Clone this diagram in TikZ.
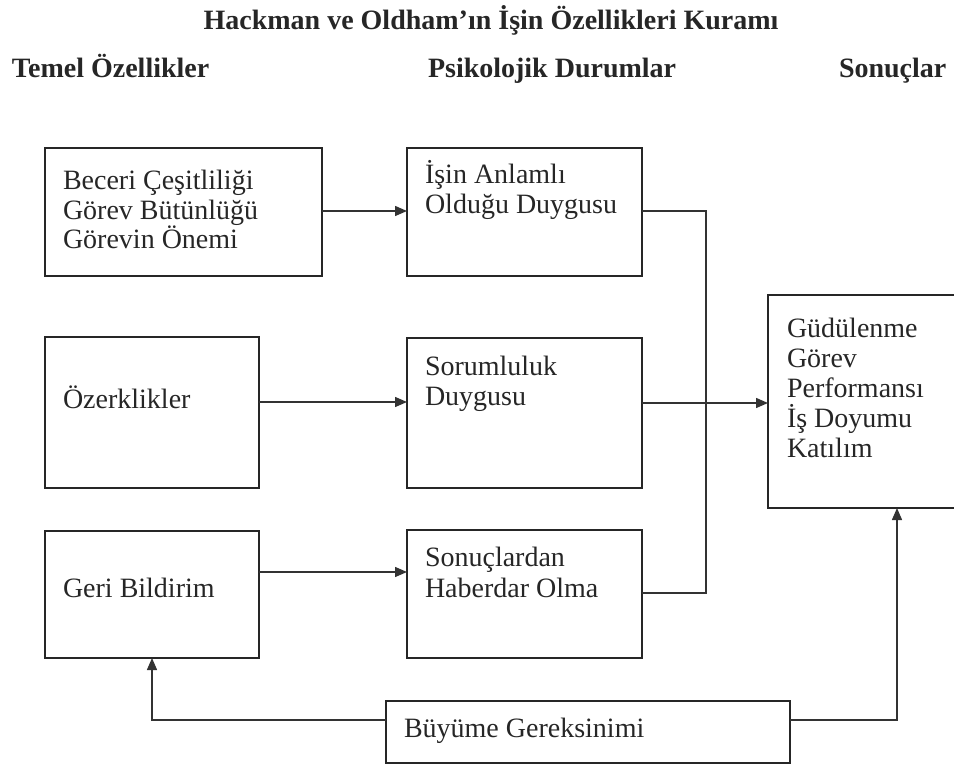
\documentclass[tikz,border=0pt]{standalone}
\usepackage{fontspec}
\setmainfont{Liberation Serif}
\usetikzlibrary{arrows.meta}

\begin{document}
\begin{tikzpicture}[x=1pt,y=-1pt,
  every node/.style={inner sep=0pt, outer sep=0pt},
  box/.style={draw=black!85, line width=1.5pt, rectangle, anchor=north west},
  % multi-line labels sit on the baseline of their last line
  txt/.style={anchor=base west, align=left, text=black!85,
    font=\fontsize{28}{30.5}\selectfont},
  head/.style={anchor=base west, text=black!85,
    font=\fontsize{28}{30}\selectfont\bfseries},
  conn/.style={draw=black!80, line width=1.4pt},
  arr/.style={conn, -{Triangle[length=12pt,width=10pt]}}]

\useasboundingbox (0,0) rectangle (954,767);

% title and column headings
\node[head, anchor=base] (title) at (491,30) {Hackman ve Oldham’ın İşin Özellikleri Kuramı};
\node[head] (h1) at (12,78) {Temel Özellikler};
\node[head] (h2) at (428,78) {Psikolojik Durumlar};
\node[head] (h3) at (839,78) {Sonuçlar};

% core job characteristics
\node[box, minimum width=277pt, minimum height=128pt] (A1) at (45,148) {};
\node[box, minimum width=214pt, minimum height=151pt] (A2) at (45,337) {};
\node[box, minimum width=214pt, minimum height=127pt] (A3) at (45,531) {};
\node[txt, font=\fontsize{28}{29.5}\selectfont] (tA1) at (63,249) {Beceri Çeşitliliği\\Görev Bütünlüğü\\Görevin Önemi};
\node[txt] (tA2) at (63,409) {Özerklikler};
\node[txt] (tA3) at (63,597) {Geri Bildirim};

% critical psychological states
\node[box, minimum width=235pt, minimum height=128pt] (B1) at (407,148) {};
\node[box, minimum width=235pt, minimum height=150pt] (B2) at (407,338) {};
\node[box, minimum width=235pt, minimum height=128pt] (B3) at (407,530) {};
\node[txt] (tB1) at (425,214) {İşin Anlamlı\\Olduğu Duygusu};
\node[txt] (tB2) at (425,406) {Sorumluluk\\Duygusu};
\node[txt] (tB3) at (425,597) {Sonuçlardan\\Haberdar Olma};

% outcomes
\node[box, minimum width=192pt, minimum height=213pt] (C) at (768,295) {};
\node[txt, font=\fontsize{28}{30}\selectfont] (tC) at (787,457) {Güdülenme\\Görev\\Performansı\\İş Doyumu\\Katılım};

% moderator
\node[box, minimum width=404pt, minimum height=62pt] (G) at (386,701) {};
\node[txt] (tG) at (404,737) {Büyüme Gereksinimi};

% junction points
\coordinate (j1) at (706,211);
\coordinate (j2) at (706,403);
\coordinate (j3) at (706,593);
\coordinate (gl) at (152,720);
\coordinate (gr) at (897,720);

% characteristics -> states
\draw[arr] (A1.east |- 0,211) -- (B1.west |- 0,211);
\draw[arr] (A2.east |- 0,402) -- (B2.west |- 0,402);
\draw[arr] (A3.east |- 0,572) -- (B3.west |- 0,572);

% states -> outcomes
\draw[conn] (B1.east |- j1) -- (j1) -- (j3) -- (B3.east |- j3);
\draw[conn] (B2.east |- j2) -- (j2);
\draw[arr] (j2) -- (C.west |- j2);

% growth need strength feedback lines
\draw[arr] (G.west |- gl) -- (gl) -- (A3.south -| gl);
\draw[arr] (G.east |- gr) -- (gr) -- (C.south -| gr);
\end{tikzpicture}
\end{document}
